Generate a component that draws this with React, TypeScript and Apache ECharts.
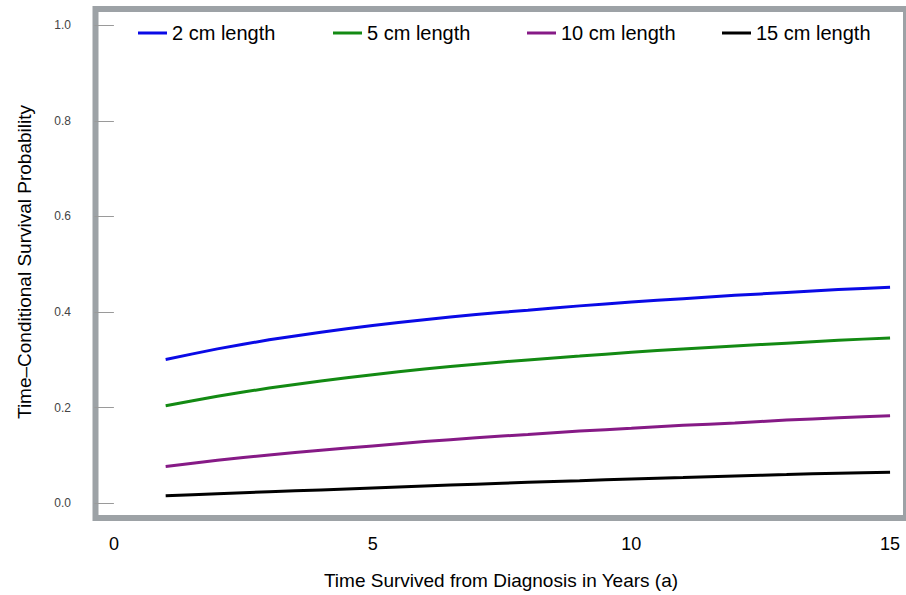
import React, { useEffect, useRef } from "react";
import * as echarts from "echarts";

const years = [1, 2, 3, 4, 5, 6, 7, 8, 9, 10, 11, 12, 13, 14, 15];
const len2cm = [0.301, 0.323, 0.342, 0.358, 0.372, 0.384, 0.395, 0.404, 0.413, 0.421, 0.428, 0.435, 0.441, 0.447, 0.452];
const len5cm = [0.204, 0.224, 0.241, 0.256, 0.269, 0.281, 0.291, 0.3, 0.308, 0.316, 0.323, 0.329, 0.335, 0.341, 0.346];
const len10cm = [0.077, 0.09, 0.101, 0.111, 0.12, 0.129, 0.137, 0.144, 0.151, 0.157, 0.163, 0.168, 0.174, 0.179, 0.183];
const len15cm = [0.016, 0.02, 0.024, 0.028, 0.032, 0.036, 0.04, 0.044, 0.047, 0.051, 0.054, 0.057, 0.06, 0.063, 0.065];
const seriesNames = ["2 cm length", "5 cm length", "10 cm length", "15 cm length"];
const seriesColors = ["#0a0ae6", "#138a13", "#861a86", "#000000"];
const xTicks = [0, 5, 10, 15];
const yTicks = [0, 0.2, 0.4, 0.6, 0.8, 1.0];
const xTitle = "Time Survived from Diagnosis in Years (a)";
const yTitle = "Time–Conditional Survival Probability";

const FONT = "Liberation Sans, Arial, Helvetica, sans-serif";

export default function App() {
  const ref = useRef<HTMLDivElement>(null);
  useEffect(() => {
    if (!ref.current) return;
    const chart = echarts.init(ref.current, null, { renderer: "svg" });
    const allData = [len2cm, len5cm, len10cm, len15cm];
    const legendLefts = [133, 328, 522, 717];
    chart.setOption({
      animation: false,
      backgroundColor: "#ffffff",
      grid: {
        left: 95.5,
        top: 9,
        right: -3,
        bottom: 77,
        show: true,
        borderColor: "#9da2a6",
        borderWidth: 6,
        backgroundColor: "#ffffff",
      },
      legend: seriesNames.map((n, i) => ({
        data: [n],
        left: legendLefts[i],
        top: 18,
        icon: "rect",
        itemWidth: 29,
        itemHeight: 3,
        itemGap: 5,
        textStyle: { fontFamily: FONT, fontSize: 20, color: "#000", padding: [0, 0, 0, 0] },
        selectedMode: false,
      })),
      xAxis: {
        type: "value",
        min: -0.356,
        max: 15.308,
        axisLine: { show: false },
        axisTick: { show: false },
        splitLine: { show: false },
        axisLabel: {
          customValues: xTicks,
          fontFamily: FONT,
          fontSize: 18,
          color: "#000",
          margin: 17,
        },
      },
      yAxis: {
        type: "value",
        min: -0.0308,
        max: 1.0341,
        axisLine: { show: false },
        axisTick: {
          show: true,
          customValues: yTicks,
          length: 19.5,
          lineStyle: { color: "#9a9a9a", width: 1 },
        },
        splitLine: { show: false },
        axisLabel: {
          customValues: yTicks,
          formatter: (v: number) => v.toFixed(1),
          fontFamily: FONT,
          fontSize: 12,
          color: "#444",
          margin: 24.5,
        },
      },
      graphic: [
        {
          type: "text",
          x: 501,
          y: 580,
          style: {
            text: xTitle,
            font: `19px ${FONT}`,
            fill: "#000",
            textAlign: "center",
            textVerticalAlign: "middle",
          },
        },
        {
          type: "text",
          x: 24,
          y: 262,
          rotation: Math.PI / 2,
          style: {
            text: yTitle,
            font: `19px ${FONT}`,
            fill: "#000",
            textAlign: "center",
            textVerticalAlign: "middle",
          },
        },
      ],
      series: seriesNames.map((n, i) => ({
        name: n,
        type: "line",
        data: years.map((y, j) => [y, allData[i][j]]),
        showSymbol: false,
        smooth: 0.2,
        color: seriesColors[i],
        lineStyle: { width: 3, color: seriesColors[i] },
      })),
    });
    return () => chart.dispose();
  }, []);
  return <div ref={ref} style={{ width: 906, height: 595, position: "absolute", left: 0, top: 0 }} />;
}
